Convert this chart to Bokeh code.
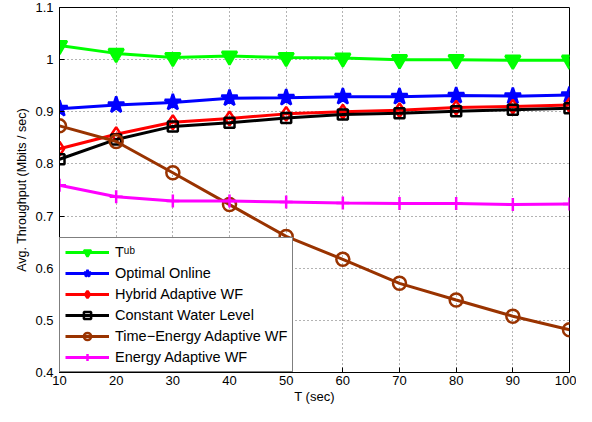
from bokeh.plotting import figure
from bokeh.models import Legend, LegendItem, FixedTicker, CustomJSTickFormatter, Range1d
from bokeh.embed import file_html
from bokeh.resources import INLINE

T = [10, 20, 30, 40, 50, 60, 70, 80, 90, 100]
t_ub = [1.027, 1.012, 1.004, 1.007, 1.004, 1.003, 1.000, 1.000, 0.999, 0.999]
optimal_online = [0.906, 0.913, 0.918, 0.926, 0.927, 0.929, 0.929, 0.931, 0.930, 0.932]
hybrid_awf = [0.829, 0.857, 0.880, 0.887, 0.896, 0.900, 0.903, 0.908, 0.910, 0.913]
constant_wl = [0.809, 0.847, 0.872, 0.879, 0.888, 0.895, 0.897, 0.901, 0.904, 0.907]
time_energy_awf = [0.873, 0.843, 0.783, 0.722, 0.661, 0.617, 0.571, 0.539, 0.508, 0.482]
energy_awf = [0.759, 0.737, 0.729, 0.729, 0.727, 0.725, 0.724, 0.724, 0.722, 0.723]

x_ticks = [10, 20, 30, 40, 50, 60, 70, 80, 90, 100]
y_ticks = [0.4, 0.5, 0.6, 0.7, 0.8, 0.9, 1.0, 1.1]

FONT = "Liberation Sans"

p = figure(width=576, height=406, output_backend="svg", toolbar_location=None,
           x_range=Range1d(10, 100), y_range=Range1d(0.4, 1.1),
           min_border_left=59, min_border_right=7, min_border_top=7, min_border_bottom=30)
p.outline_line_color = "black"
p.outline_line_width = 1
p.background_fill_color = "white"
p.border_fill_color = "white"

for ax in (p.xaxis[0], p.yaxis[0]):
    ax.axis_line_color = "black"
    ax.major_tick_in = 5
    ax.major_tick_out = 0
    ax.minor_tick_line_color = None
    ax.major_tick_line_color = "black"
    ax.major_label_text_font = FONT
    ax.major_label_text_font_size = "13px"
    ax.major_label_text_color = "black"
    ax.axis_label_text_font = FONT
    ax.axis_label_text_font_style = "normal"
    ax.axis_label_text_color = "black"

p.xaxis.ticker = FixedTicker(ticks=x_ticks)
p.yaxis.ticker = FixedTicker(ticks=y_ticks)
p.yaxis.formatter = CustomJSTickFormatter(code="return tick.toFixed(1).replace(/\\.0$/, '');")
p.xaxis.axis_label = "T (sec)"
p.yaxis.axis_label = "Avg. Throughput (Mbits / sec)"
p.xaxis.axis_label_text_font_size = "13px"
p.yaxis.axis_label_text_font_size = "12.5px"
p.xaxis.axis_label_standoff = 1
p.yaxis.axis_label_standoff = 3
p.xaxis.major_label_standoff = 3
p.yaxis.major_label_standoff = 6

p.grid.grid_line_color = "black"
p.grid.grid_line_dash = "1 3"
p.grid.grid_line_alpha = 0.6

series = [
    ("Tᵘᵇ", t_ub, "#00ff00", "inverted_triangle", 15),
    ("Optimal Online", optimal_online, "#0000ff", "star", 17),
    ("Hybrid Adaptive WF", hybrid_awf, "#ff0000", "diamond", 14),
    ("Constant Water Level", constant_wl, "#000000", "square", 10),
    ("Time−Energy Adaptive WF", time_energy_awf, "#993300", "circle", 13),
    ("Energy Adaptive WF", energy_awf, "#ff00ff", "cross", 13),
]

items = []
for name, ys, color, marker, size in series:
    r1 = p.line(T, ys, line_color=color, line_width=3)
    filled = marker in ("inverted_triangle", "star")
    r2 = p.scatter(T, ys, marker=marker, size=size, line_color=color, line_width=2.5,
                   fill_color=color, fill_alpha=1 if filled else 0)
    items.append(LegendItem(label=name, renderers=[r1, r2]))

legend = Legend(items=items, location="bottom_left", border_line_color="black",
                border_line_width=1.5, background_fill_color="white", background_fill_alpha=1,
                label_text_font=FONT, label_text_font_size="14.5px", label_text_color="black",
                glyph_width=44, glyph_height=18, spacing=3, padding=5, margin=0,
                label_standoff=6, label_height=18)
p.add_layout(legend, "center")

open("out.html", "w").write(file_html(p, INLINE))
